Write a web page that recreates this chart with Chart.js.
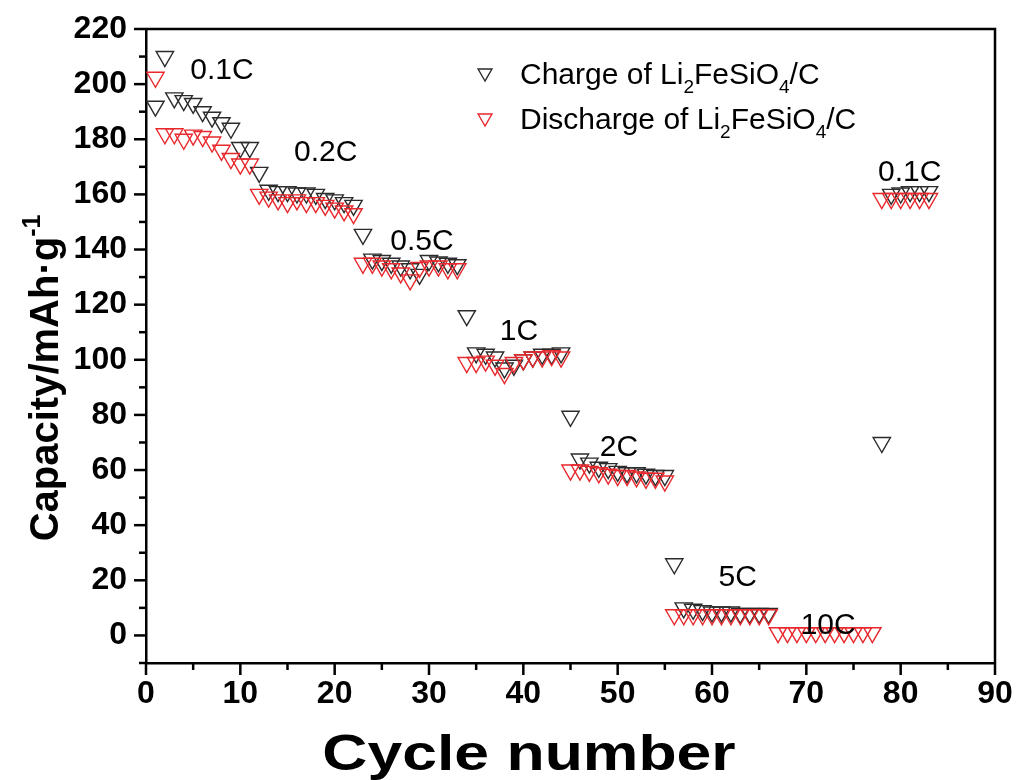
<!DOCTYPE html>
<html>
<head>
<meta charset="utf-8">
<script src="https://cdn.jsdelivr.net/npm/chart.js@4.4.1/dist/chart.umd.min.js"></script>
<style>
  html, body { margin: 0; padding: 0; background: #fff; }
  #wrap { width: 1018px; height: 780px; position: relative; }
</style>
</head>
<body>
<div id="wrap"><canvas id="rateChart"></canvas></div>
<script>
/* ---- data ---- */
var cycles = [1, 2, 3, 4, 5, 6, 7, 8, 9, 10, 11, 12, 13, 14, 15, 16, 17, 18, 19, 20,
  21, 22, 23, 24, 25, 26, 27, 28, 29, 30, 31, 32, 33, 34, 35, 36, 37, 38, 39, 40,
  41, 42, 43, 44, 45, 46, 47, 48, 49, 50, 51, 52, 53, 54, 55, 56, 57, 58, 59, 60,
  61, 62, 63, 64, 65, 66, 67, 68, 69, 70, 71, 72, 73, 74, 75, 76, 77, 78, 79, 80,
  81, 82, 83];

// charge capacity (mAh/g); the 10C charge points sit under the discharge marks
var chargeCap = [192, 210, 195, 194, 193, 190, 188, 186, 184, 177, 177,
  168, 161.5, 161, 161, 160.5, 160.5, 160, 158.5, 158, 157, 156,
  145.5, 136.5, 136, 135, 134, 133, 131, 136, 135.5, 135, 134.5,
  116, 102.5, 102, 101, 97, 98, 100, 101, 102, 102, 102.5,
  79.5, 64, 62.5, 61, 60.5, 59.5, 59, 59, 58.5, 58, 58,
  26, 10, 9.5, 9, 8.5, 8.5, 8.5, 8, 8, 8, 8,
  null, null, null, null, null, null, null, null, null, null, null,
  70, 160, 160.5, 161, 161, 161];

var dischargeCap = [202.5, 182, 182, 180, 181.5, 181, 179, 176, 173, 171, 171,
  160, 159, 158, 157, 158, 157, 157, 156, 155, 154, 153,
  135, 135, 134, 133, 131.5, 129, 133.5, 134, 134, 133, 133,
  99, 99, 99.5, 98, 95, 99, 100, 101, 101, 101.5, 101,
  60, 60, 59.5, 59, 58.5, 58, 58, 57.5, 57, 57, 56,
  7.5, 7.5, 7.5, 7.5, 7.5, 7.5, 7.5, 7.5, 7.5, 7.5, 7.5,
  1, 1, 1, 1, 1, 1, 1, 1, 1, 1, 1,
  158.5, 158.5, 158.5, 158.5, 158.5, 158.5];

var rateNames  = ['0.1C', '0.2C', '0.5C', '1C', '2C', '5C', '10C', '0.1C'];
var rateCycle  = [4.7, 15.7, 25.9, 37.5, 48.1, 60.7, 69.4, 77.6];   // where each label starts
var rateCap    = [202, 172, 140, 107, 65, 17.8, 0.7, 165];           // label baseline

var xTicks = [0, 10, 20, 30, 40, 50, 60, 70, 80, 90];
var yTicks = [0, 20, 40, 60, 80, 100, 120, 140, 160, 180, 200, 220];

var FONT = '"Liberation Sans", Arial, Helvetica, sans-serif';
var BLACK = '#2b2b2b';
var RED = '#e8282c';

function toPoints(ys) {
  var out = [];
  for (var i = 0; i < cycles.length; i++) {
    if (ys[i] !== null && ys[i] !== undefined) out.push({ x: cycles[i], y: ys[i] });
  }
  return out;
}

/* text with sub/superscripts: parts = [[text, mode], ...] mode '', 'sub', 'sup' */
function drawRich(ctx, parts, x, y, size, weight) {
  var cx = x;
  parts.forEach(function (p) {
    var small = p[1] !== '';
    ctx.font = (weight || '') + ' ' + (small ? Math.round(size * 0.62) : size) + 'px ' + FONT;
    var dy = p[1] === 'sub' ? size * 0.3 : (p[1] === 'sup' ? -size * 0.45 : 0);
    ctx.fillText(p[0], cx, y + dy);
    cx += ctx.measureText(p[0]).width;
  });
  return cx - x;
}

function downTriangle(ctx, x, y, r) {
  ctx.beginPath();
  ctx.moveTo(x, y + r);
  ctx.lineTo(x - r * 0.866, y - r / 2);
  ctx.lineTo(x + r * 0.866, y - r / 2);
  ctx.closePath();
  ctx.stroke();
}

var decorations = {
  id: 'decorations',
  afterDraw: function (chart) {
    var ctx = chart.ctx, xs = chart.scales.x, ys = chart.scales.y, a = chart.chartArea;
    ctx.save();

    // top and right frame lines, no ticks
    ctx.strokeStyle = '#000';
    ctx.lineWidth = 2.5;
    ctx.beginPath();
    ctx.moveTo(a.left, a.top);
    ctx.lineTo(a.right, a.top);
    ctx.lineTo(a.right, a.bottom);
    ctx.stroke();

    // axis ticks, long at labelled values
    ys.ticks.forEach(function (t) {
      var py = ys.getPixelForValue(t.value);
      var len = yTicks.indexOf(t.value) >= 0 ? 12 : 7;
      ctx.beginPath(); ctx.moveTo(a.left, py); ctx.lineTo(a.left - len, py); ctx.stroke();
    });
    xs.ticks.forEach(function (t) {
      var px = xs.getPixelForValue(t.value);
      var len = xTicks.indexOf(t.value) >= 0 ? 12 : 7;
      ctx.beginPath(); ctx.moveTo(px, a.bottom); ctx.lineTo(px, a.bottom + len); ctx.stroke();
    });

    // rate labels
    ctx.fillStyle = '#000';
    ctx.textBaseline = 'alphabetic';
    ctx.textAlign = 'left';
    ctx.font = '30px ' + FONT;
    rateNames.forEach(function (n, i) {
      ctx.fillText(n, xs.getPixelForValue(rateCycle[i]), ys.getPixelForValue(rateCap[i]));
    });

    // legend
    ctx.lineWidth = 1.4;
    ctx.strokeStyle = BLACK;
    downTriangle(ctx, 485, 73, 8);
    ctx.strokeStyle = RED;
    downTriangle(ctx, 485, 118, 8);
    ctx.fillStyle = '#000';
    drawRich(ctx, [['Charge of Li', ''], ['2', 'sub'], ['FeSiO', ''], ['4', 'sub'], ['/C', '']], 520, 84, 30, '');
    drawRich(ctx, [['Discharge of Li', ''], ['2', 'sub'], ['FeSiO', ''], ['4', 'sub'], ['/C', '']], 520, 129, 30, '');

    // x title, set a little wide like the reference lettering
    ctx.save();
    ctx.font = 'bold 50px ' + FONT;
    ctx.textAlign = 'center';
    ctx.translate(529, 770);
    ctx.scale(1.25, 1);
    ctx.fillText('Cycle number', 0, 0);
    ctx.restore();

    // y title
    ctx.translate(58, 378);
    ctx.rotate(-Math.PI / 2);
    ctx.textAlign = 'left';
    var parts = [['Capacity/mAh\u00b7g', ''], ['-1', 'sup']];
    ctx.globalAlpha = 0;
    var w = drawRich(ctx, parts, 0, 0, 40, 'bold');
    ctx.globalAlpha = 1;
    drawRich(ctx, parts, -w / 2, 0, 40, 'bold');
    ctx.restore();
  }
};

new Chart(document.getElementById('rateChart'), {
  type: 'scatter',
  data: {
    datasets: [
      {
        label: 'Charge of Li2FeSiO4/C',
        data: toPoints(chargeCap),
        borderColor: BLACK,
        backgroundColor: 'rgba(0,0,0,0)',
        pointStyle: 'triangle',
        rotation: 180,
        pointRadius: 10,
        pointBorderWidth: 1.4,
        order: 2,
      },
      {
        label: 'Discharge of Li2FeSiO4/C',
        data: toPoints(dischargeCap),
        borderColor: RED,
        backgroundColor: 'rgba(0,0,0,0)',
        pointStyle: 'triangle',
        rotation: 180,
        pointRadius: 10,
        pointBorderWidth: 1.4,
        order: 1,
      },
    ],
  },
  options: {
    responsive: true,
    maintainAspectRatio: false,
    animation: false,
    layout: { padding: { top: 29, right: 23, left: 0, bottom: 0 } },
    plugins: { legend: { display: false }, tooltip: { enabled: false } },
    scales: {
      x: {
        type: 'linear',
        min: 0, max: 90,
        afterFit: function (s) { s.height = 117; },
        border: { display: true, color: '#000', width: 2.5 },
        grid: { display: true, drawOnChartArea: false, drawTicks: true, tickLength: 12, color: 'rgba(0,0,0,0)' },
        ticks: {
          stepSize: 5, autoSkip: false, maxRotation: 0, padding: 0,
          color: '#000',
          font: { family: FONT, size: 32, weight: 'bold' },
          callback: function (v) { return xTicks.indexOf(v) >= 0 ? String(v) : ''; },
        },
      },
      y: {
        type: 'linear',
        min: -10, max: 220,
        afterFit: function (s) { s.width = 146; },
        border: { display: true, color: '#000', width: 2.5 },
        grid: { display: true, drawOnChartArea: false, drawTicks: true, tickLength: 12, color: 'rgba(0,0,0,0)' },
        ticks: {
          stepSize: 10, autoSkip: false, padding: 7,
          color: '#000',
          font: { family: FONT, size: 32, weight: 'bold' },
          callback: function (v) { return yTicks.indexOf(v) >= 0 ? String(v) : ''; },
        },
      },
    },
  },
  plugins: [decorations],
});
</script>
</body>
</html>
